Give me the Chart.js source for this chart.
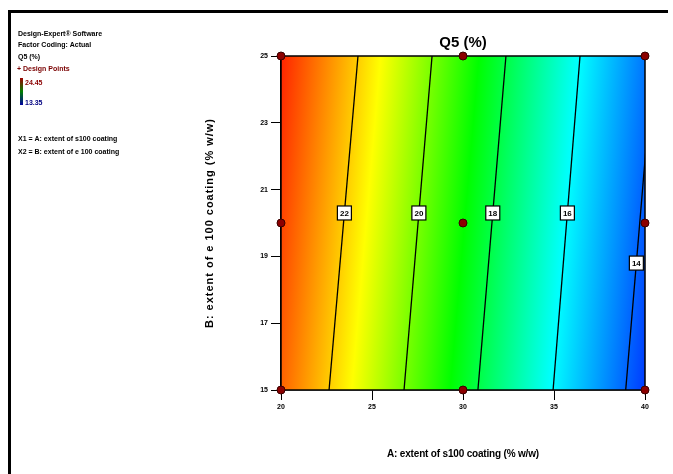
<!DOCTYPE html>
<html><head><meta charset="utf-8">
<script src="https://cdn.jsdelivr.net/npm/chart.js@4.4.1/dist/chart.umd.min.js"></script>
<style>html,body{margin:0;padding:0;background:#fff;overflow:hidden}#wrap{width:673px;height:474px;position:relative}</style>
</head><body><div id="wrap"><canvas id="c" width="673" height="474"></canvas></div>
<script>
const chartTitle = 'Q5 (%)';
const xTitle = 'A: extent of s100 coating (% w/w)';
const yTitle = 'B: extent of e 100 coating (% w/w)';
const xTicks = [20, 25, 30, 35, 40];
const yTicks = [15, 17, 19, 21, 23, 25];
// contour levels and where each crosses B=15 and B=25 (A values)
const levels = [22, 20, 18, 16, 14];
const levelAatB15 = [22.64, 26.76, 30.82, 34.95, 38.94];
const levelAatB25 = [24.23, 28.30, 32.36, 36.43, 40.48];
const labelB = [20.3, 20.3, 20.3, 20.3, 18.8];
// design points
const pointA = [20, 20, 20, 30, 30, 30, 40, 40, 40];
const pointB = [15, 20, 25, 15, 20, 25, 15, 20, 25];
// colour scale (Q5 value -> colour)
const colorQ = [13.4, 16.05, 18.75, 21.4, 24.1];
const colorHex = ['#0033ff', '#00ffff', '#00ff00', '#ffff00', '#ff2200'];
// left info panel
const infoLines = ['Design-Expert\u00AE Software', 'Factor Coding: Actual', 'Q5 (%)'];
const infoPoints = 'Design Points';
const infoMax = '24.45';
const infoMin = '13.35';
const factorLines = ['X1 = A: extent of s100 coating', 'X2 = B: extent of e 100 coating'];

const FONT = '"Liberation Sans", Arial, sans-serif';

const fieldPlugin = {
  id: 'field',
  beforeDatasetsDraw(chart) {
    const {ctx, chartArea: ca, scales: {x, y}} = chart;
    const L = levels.map((q, i) => ({q,
      x0: x.getPixelForValue(levelAatB15[i]), y0: y.getPixelForValue(15),
      x1: x.getPixelForValue(levelAatB25[i]), y1: y.getPixelForValue(25)}));
    const dx = L[0].x1 - L[0].x0, dy = L[0].y1 - L[0].y0, len = Math.hypot(dx, dy);
    const nx = -dy / len, ny = dx / len;
    const ox = ca.left, oy = ca.bottom;
    const s = L.map(l => (l.x0 - ox) * nx + (l.y0 - oy) * ny);
    // linear fit s = m*q + c
    const n = L.length;
    const mq = levels.reduce((a, b) => a + b, 0) / n, ms = s.reduce((a, b) => a + b, 0) / n;
    let num = 0, den = 0;
    for (let i = 0; i < n; i++) { num += (levels[i] - mq) * (s[i] - ms); den += (levels[i] - mq) ** 2; }
    const m = num / den, c = ms - m * mq;
    const q0 = colorQ[0], q1 = colorQ[colorQ.length - 1];
    const s0 = m * q0 + c, s1 = m * q1 + c;
    const g = ctx.createLinearGradient(ox + s0 * nx, oy + s0 * ny, ox + s1 * nx, oy + s1 * ny);
    colorQ.forEach((q, k) => g.addColorStop((q - q0) / (q1 - q0), colorHex[k]));
    ctx.save();
    ctx.fillStyle = g;
    ctx.fillRect(ca.left, ca.top, ca.width, ca.height);
    ctx.strokeStyle = '#000';
    ctx.lineWidth = 1.5;
    ctx.strokeRect(ca.left, ca.top, ca.width, ca.height);
    ctx.restore();
  },
  afterDatasetsDraw(chart) {
    const {ctx, scales: {x, y}} = chart;
    ctx.save();
    levels.forEach((q, i) => {
      const b = labelB[i];
      const a = levelAatB15[i] + (levelAatB25[i] - levelAatB15[i]) * (b - 15) / 10;
      const px = x.getPixelForValue(a), py = y.getPixelForValue(b);
      ctx.fillStyle = '#fff';
      ctx.fillRect(px - 7, py - 7, 14, 14);
      ctx.strokeStyle = '#000';
      ctx.lineWidth = 1.2;
      ctx.strokeRect(px - 7, py - 7, 14, 14);
      ctx.fillStyle = '#000';
      ctx.font = 'bold 8px ' + FONT;
      ctx.textAlign = 'center';
      ctx.textBaseline = 'middle';
      ctx.fillText(String(q), px, py + 0.5);
    });
    ctx.restore();
  },
  afterDraw(chart) {
    const {ctx, chartArea: ca} = chart;
    ctx.save();
    // outer frame (top and left)
    ctx.fillStyle = '#000';
    ctx.fillRect(8, 10, 660, 3);
    ctx.fillRect(8, 10, 3, 464);
    // title
    ctx.font = 'bold 15px ' + FONT;
    ctx.textAlign = 'center';
    ctx.textBaseline = 'middle';
    ctx.fillText(chartTitle, (ca.left + ca.right) / 2, 43);
    // axis titles
    const fitText = (txt, font, target) => {
      ctx.font = font; ctx.letterSpacing = '0px';
      const w = ctx.measureText(txt).width;
      ctx.letterSpacing = ((target - w) / txt.length).toFixed(2) + 'px';
    };
    fitText(xTitle, 'bold 10px ' + FONT, 152);
    ctx.fillText(xTitle, (ca.left + ca.right) / 2, 454);
    ctx.save();
    ctx.translate(210, (ca.top + ca.bottom) / 2);
    ctx.rotate(-Math.PI / 2);
    fitText(yTitle, 'bold 11px ' + FONT, 210);
    ctx.fillText(yTitle, 0, 0);
    ctx.restore();
    ctx.letterSpacing = '0px';
    // info panel
    ctx.textAlign = 'left';
    ctx.font = 'bold 7px ' + FONT;
    ctx.fillStyle = '#000';
    infoLines.forEach((t, i) => ctx.fillText(t, 18, 34 + i * 11.5));
    ctx.fillStyle = '#7a0000';
    ctx.fillText('+ ' + infoPoints, 17, 69);
    const cg = ctx.createLinearGradient(0, 78, 0, 105);
    cg.addColorStop(0, '#a00000'); cg.addColorStop(0.5, '#008000'); cg.addColorStop(1, '#0000a0');
    ctx.fillStyle = cg;
    ctx.fillRect(20, 78, 3, 27);
    ctx.fillStyle = '#8b0000';
    ctx.fillText(infoMax, 25, 83);
    ctx.fillStyle = '#000080';
    ctx.fillText(infoMin, 25, 103);
    ctx.fillStyle = '#000';
    factorLines.forEach((t, i) => ctx.fillText(t, 18, 139 + i * 13));
    ctx.restore();
  }
};

const datasets = [{
  label: 'Design Points',
  data: pointA.map((a, i) => ({x: a, y: pointB[i]})),
  pointRadius: 4, pointBackgroundColor: '#8b0000', pointBorderColor: '#3a0000', pointBorderWidth: 1,
  showLine: false, clip: false
}];
levels.forEach((q, i) => datasets.push({
  label: 'Q5 = ' + q,
  data: [{x: levelAatB15[i], y: 15}, {x: levelAatB25[i], y: 25}],
  showLine: true, borderColor: '#000', borderWidth: 1.3, pointRadius: 0, fill: false
}));

const tickFont = {size: 7, weight: 'bold', family: FONT};
new Chart(document.getElementById('c'), {
  type: 'scatter',
  data: {datasets},
  plugins: [fieldPlugin],
  options: {
    responsive: false, animation: false, events: [],
    layout: {padding: {left: 200, right: 28, top: 56, bottom: 0}},
    plugins: {legend: {display: false}, tooltip: {enabled: false}, title: {display: false}},
    scales: {
      x: {
        type: 'linear', min: 20, max: 40,
        afterBuildTicks: s => { s.ticks = xTicks.map(v => ({value: v})); },
        ticks: {font: tickFont, color: '#000', padding: 3, maxRotation: 0},
        grid: {drawOnChartArea: false, drawTicks: true, tickLength: 10, color: '#000', lineWidth: 1},
        border: {color: '#000', width: 1.5},
        afterFit: s => { s.height = 84; }
      },
      y: {
        type: 'linear', min: 15, max: 25,
        afterBuildTicks: s => { s.ticks = yTicks.map(v => ({value: v})); },
        ticks: {font: tickFont, color: '#000', padding: 3},
        grid: {drawOnChartArea: false, drawTicks: true, tickLength: 10, color: '#000', lineWidth: 1},
        border: {color: '#000', width: 1.5},
        afterFit: s => { s.width = 81; }
      }
    }
  }
});
</script>
</body></html>
